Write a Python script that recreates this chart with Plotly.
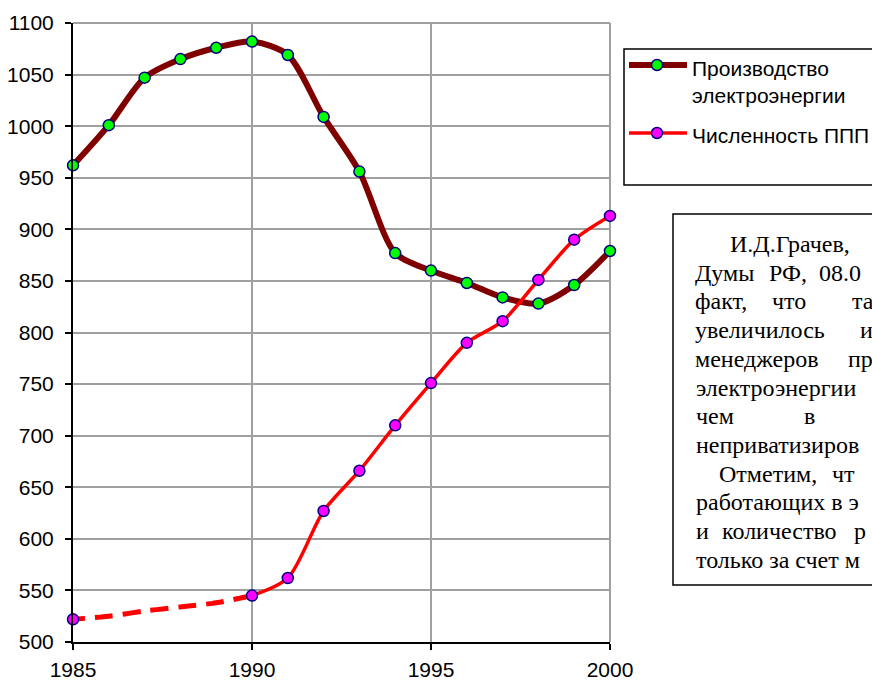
import plotly.graph_objects as go

# ---- data ----
years = list(range(1985, 2001))
production = [962, 1001, 1047, 1065, 1076, 1082, 1069, 1009, 956, 877, 860, 848, 834, 828, 846, 879]
ppp_est_years = [1985, 1986, 1987, 1988, 1989, 1990]
ppp_est = [522, 525, 530, 534, 538, 545]
ppp_years = list(range(1990, 2001))
ppp = [545, 562, 627, 666, 710, 751, 790, 811, 851, 890, 913]
x_tick_vals = [1985, 1990, 1995, 2000]
y_tick_vals = list(range(500, 1101, 50))
legend_labels = ["Производство<br>электроэнергии", "Численность ППП"]

# ---- geometry helpers (pixel -> paper) ----
W, H = 872, 681
L, R, T, B = 73, 262, 23, 39
PW, PH = W - L - R, H - T - B


def px(x):
    return (x - L) / PW


def py(y):
    return (H - B - y) / PH


PROD_LINE = "#800000"
PPP_LINE = "#FF0000"
PROD_FILL = "#00FF00"
PPP_FILL = "#FF00FF"
OUTLINE = "#000080"

fig = go.Figure()

fig.add_trace(go.Scatter(
    x=years, y=production, mode="lines+markers",
    line=dict(color=PROD_LINE, width=6, shape="spline", smoothing=0.8),
    marker=dict(size=11, color=PROD_FILL, line=dict(color=OUTLINE, width=1.5)),
    cliponaxis=False, showlegend=False, hoverinfo="x+y",
))
fig.add_trace(go.Scatter(
    x=ppp_est_years, y=ppp_est, mode="lines",
    line=dict(color=PPP_LINE, width=5, shape="spline", smoothing=0.8, dash="12px,10px,6px,0px"),
    cliponaxis=False, showlegend=False, hoverinfo="skip",
))
fig.add_trace(go.Scatter(
    x=ppp_years, y=ppp, mode="lines+markers",
    line=dict(color=PPP_LINE, width=3.5, shape="spline", smoothing=0.8),
    marker=dict(size=11, color=PPP_FILL, line=dict(color=OUTLINE, width=1.5)),
    cliponaxis=False, showlegend=False, hoverinfo="x+y",
))
fig.add_trace(go.Scatter(
    x=ppp_est_years[:1], y=ppp_est[:1], mode="markers",
    marker=dict(size=11, color=PPP_FILL, line=dict(color=OUTLINE, width=1.5)),
    cliponaxis=False, showlegend=False, hoverinfo="x+y",
))

shapes = []
annotations = []

# gray top/right frame of the plot area
shapes.append(dict(type="line", xref="paper", yref="paper", x0=0, x1=1, y0=1, y1=1,
                   line=dict(color="#a0a0a0", width=2), layer="below"))
shapes.append(dict(type="line", xref="paper", yref="paper", x0=1, x1=1, y0=0, y1=1,
                   line=dict(color="#a0a0a0", width=2), layer="below"))

# ---- manual legend ----
shapes.append(dict(type="rect", xref="paper", yref="paper",
                   x0=px(624), x1=px(960), y0=py(185), y1=py(49),
                   line=dict(color="black", width=1.5), fillcolor="white", layer="above"))
leg_rows = [(65, PROD_LINE, 6, PROD_FILL), (133, PPP_LINE, 3.5, PPP_FILL)]
for (yy, lc, lw, fc) in leg_rows:
    shapes.append(dict(type="line", xref="paper", yref="paper",
                       x0=px(629), x1=px(687), y0=py(yy), y1=py(yy),
                       line=dict(color=lc, width=lw), layer="above"))
    shapes.append(dict(type="circle", xref="paper", yref="paper",
                       x0=px(651.5), x1=px(662.5), y0=py(yy + 5.5), y1=py(yy - 5.5),
                       fillcolor=fc, line=dict(color=OUTLINE, width=1.5), layer="above"))
leg_font = dict(family="Liberation Sans, Arial, sans-serif", size=21, color="black")
annotations.append(dict(xref="paper", yref="paper", x=px(690), y=py(82), text=legend_labels[0],
                        showarrow=False, xanchor="left", yanchor="middle", align="left",
                        font=leg_font))
annotations.append(dict(xref="paper", yref="paper", x=px(690), y=py(135), text=legend_labels[1],
                        showarrow=False, xanchor="left", yanchor="middle", align="left",
                        font=leg_font))

# ---- quote text box ----
shapes.append(dict(type="rect", xref="paper", yref="paper",
                   x0=px(673), x1=px(960), y0=py(585), y1=py(214),
                   line=dict(color="black", width=1.5), fillcolor="white", layer="above"))
text_lines = [
    [("И.Д.Грачев,", 728)],
    [("Думы", 693), ("РФ,", 767), ("08.0", 817)],
    [("факт,", 693), ("что", 770), ("та", 850)],
    [("увеличилось", 693), ("и", 858)],
    [("менеджеров", 693), ("пр", 846)],
    [("электроэнергии", 694)],
    [("чем", 694), ("в", 802)],
    [("неприватизиров", 694)],
    [("Отметим,", 717), ("чт", 830)],
    [("работающих в э", 694)],
    [("и", 694), ("количество", 720), ("р", 852)],
    [("только за счет м", 694)],
]
txt_font = dict(family="Liberation Serif, Times New Roman, serif", size=24, color="black")
for k, words in enumerate(text_lines):
    yy = 244 + 28.7 * k
    for (w, xx) in words:
        annotations.append(dict(xref="paper", yref="paper", x=px(xx), y=py(yy), text=w,
                                showarrow=False, xanchor="left", yanchor="middle",
                                font=txt_font))

axis_font = dict(family="Liberation Sans, Arial, sans-serif", size=21, color="black")

fig.update_layout(
    width=W, height=H,
    margin=dict(l=L, r=R, t=T, b=B, pad=0, autoexpand=False),
    paper_bgcolor="white", plot_bgcolor="white",
    showlegend=False,
    shapes=shapes, annotations=annotations,
    xaxis=dict(
        range=[1985, 2000], tickmode="array", tickvals=x_tick_vals,
        ticktext=[str(v) for v in x_tick_vals],
        showgrid=True, gridcolor="#a0a0a0", gridwidth=2,
        showline=True, linecolor="black", linewidth=2,
        ticks="outside", ticklen=6, tickwidth=2, tickcolor="black",
        tickfont=axis_font, zeroline=False, ticklabelstandoff=2, automargin=False,
    ),
    yaxis=dict(
        range=[500, 1100], tickmode="array", tickvals=y_tick_vals,
        ticktext=[str(v) for v in y_tick_vals],
        showgrid=True, gridcolor="#a0a0a0", gridwidth=2,
        showline=True, linecolor="black", linewidth=2,
        ticks="outside", ticklen=6, tickwidth=2, tickcolor="black",
        tickfont=axis_font, zeroline=False, ticklabelstandoff=7, automargin=False,
    ),
)

fig.write_html(
    "out.html",
    config={"displayModeBar": False},
    post_script=(
        "var s=document.documentElement.style;s.margin='0';s.padding='0';"
        "s.overflow='hidden';s.height='681px';"
        "var b=document.body.style;b.margin='0';b.padding='0';"
        "b.overflow='hidden';b.height='681px';"
    ),
)
